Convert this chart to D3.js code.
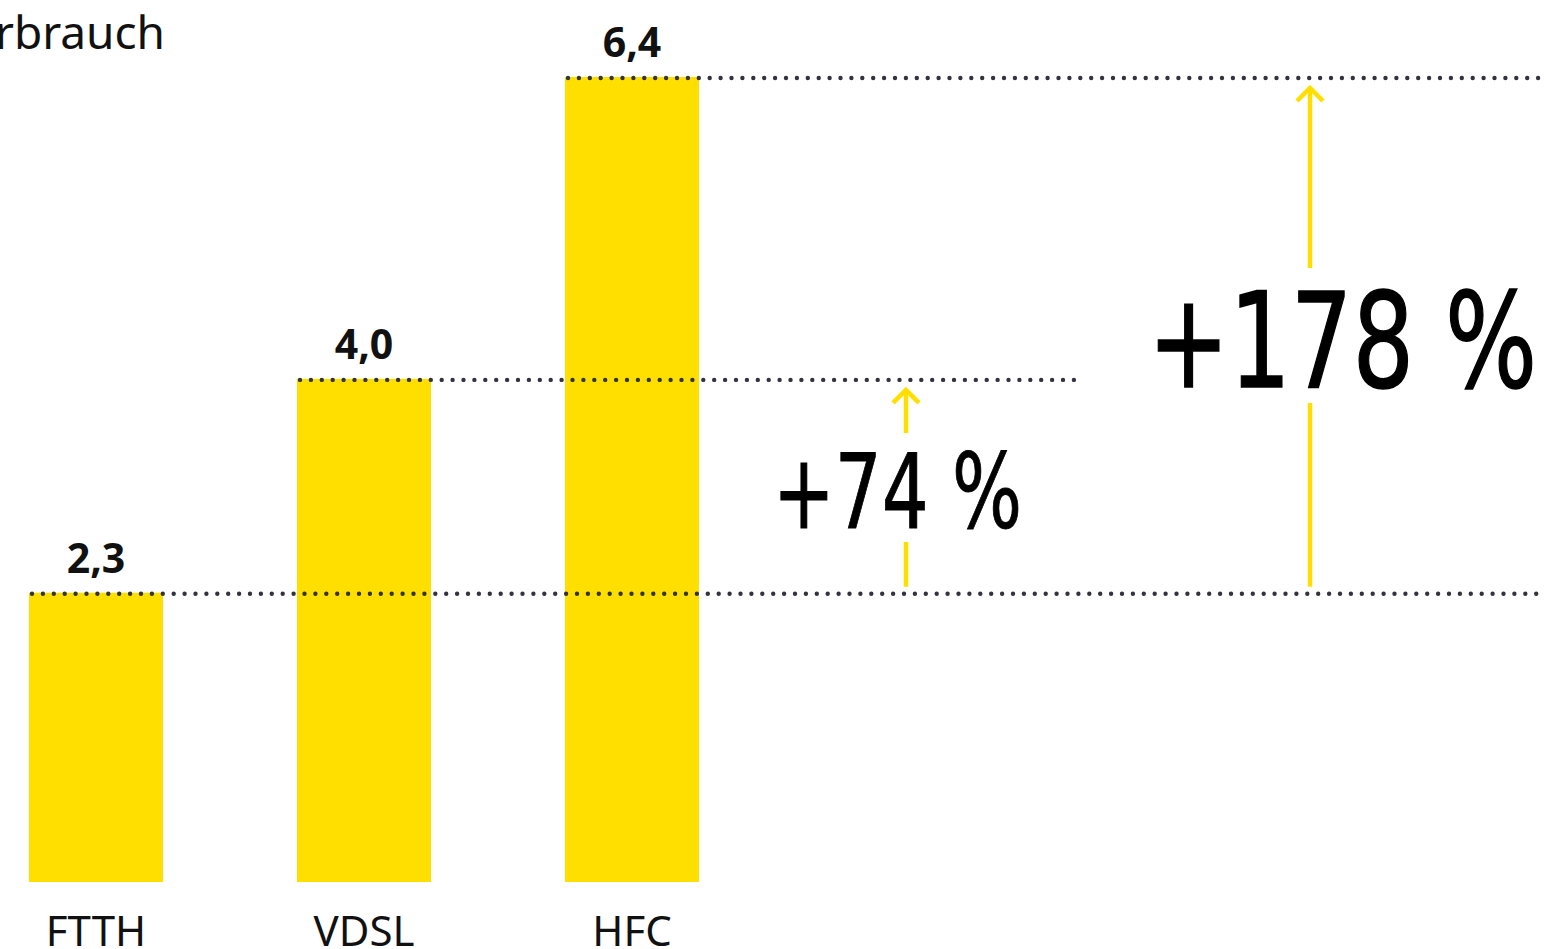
<!DOCTYPE html>
<html><head><meta charset="utf-8">
<script src="https://cdn.jsdelivr.net/npm/d3@7"></script>
<style>body{margin:0;background:#fff;overflow:hidden}</style>
</head><body>
<svg id="c" width="1546" height="949"></svg>
<script>
const title = "Stromverbrauch";
const categories = ["FTTH", "VDSL", "HFC"];
const values = [2.3, 4.0, 6.4];
const valueLabels = ["2,3", "4,0", "6,4"];
const changes = [{from: 0, to: 1, label: "+74 %"}, {from: 0, to: 2, label: "+178 %"}];

const svg = d3.select("#c");
const yellow = "#FFDF00", dotColor = "#33333f";
const xb = d3.scaleBand().domain(categories).range([29, 699]).paddingInner(0.5).paddingOuter(0);
const y = d3.scaleLinear().domain([0, 6.4]).range([882, 77]);

svg.append("text").attr("x", 165).attr("y", 49).attr("text-anchor", "end")
  .attr("font-family", "Noto Sans").attr("font-size", 46).attr("fill", "#111").text(title);

// bars
svg.selectAll("rect.bar").data(values).join("rect")
  .attr("x", (d, i) => xb(categories[i])).attr("width", xb.bandwidth())
  .attr("y", d => y(d)).attr("height", d => y(0) - y(d)).attr("fill", yellow);

// dotted lines
const lineEnds = [1546, 1082, 1546];
svg.selectAll("line.dot").data(values).join("line")
  .attr("x1", (d, i) => xb(categories[i]) + 3).attr("x2", (d, i) => lineEnds[i])
  .attr("y1", d => y(d) + 1).attr("y2", d => y(d) + 1)
  .attr("stroke", dotColor).attr("stroke-width", 4.4).attr("stroke-linecap", "round")
  .attr("stroke-dasharray", "0 10.9");

// value labels
svg.selectAll("text.val").data(values).join("text")
  .attr("x", (d, i) => xb(categories[i]) + xb.bandwidth() / 2).attr("y", d => y(d) - 20)
  .attr("text-anchor", "middle").attr("font-family", "Noto Sans").attr("font-weight", "bold")
  .attr("font-size", 41).attr("fill", "#111").text((d, i) => valueLabels[i]);

// category labels
svg.selectAll("text.cat").data(categories).join("text")
  .attr("x", d => xb(d) + xb.bandwidth() / 2).attr("y", 946)
  .attr("text-anchor", "middle").attr("font-family", "Noto Sans").attr("font-size", 42)
  .attr("fill", "#111").text(d => d);

// change arrows
const arrowX = [906, 1310];
const gaps = [[433, 542], [268, 403]];
const fs = [104, 132];
const textX = [773, 1148];
const textW = [249, 389];
const textY = [528, 387];
changes.forEach((c, k) => {
  const yTop = y(values[c.to]) + 11, yBot = y(values[c.from]) - 6;
  const ax = arrowX[k];
  const g = svg.append("g").attr("stroke", yellow).attr("stroke-width", 4.5).attr("fill", "none");
  g.append("line").attr("x1", ax).attr("x2", ax).attr("y1", yTop).attr("y2", gaps[k][0]);
  g.append("line").attr("x1", ax).attr("x2", ax).attr("y1", gaps[k][1]).attr("y2", yBot);
  g.append("path").attr("d", `M${ax - 13},${yTop + 13} L${ax},${yTop} L${ax + 13},${yTop + 13}`);
  svg.append("text").attr("x", textX[k]).attr("y", textY[k])
    .attr("font-family", "DejaVu Sans").attr("font-size", fs[k])
    .attr("textLength", textW[k]).attr("lengthAdjust", "spacingAndGlyphs")
    .attr("stroke", "#000").attr("stroke-width", k ? 1.5 : 1)
    .attr("fill", "#000").text(c.label);
});
</script>
</body></html>
